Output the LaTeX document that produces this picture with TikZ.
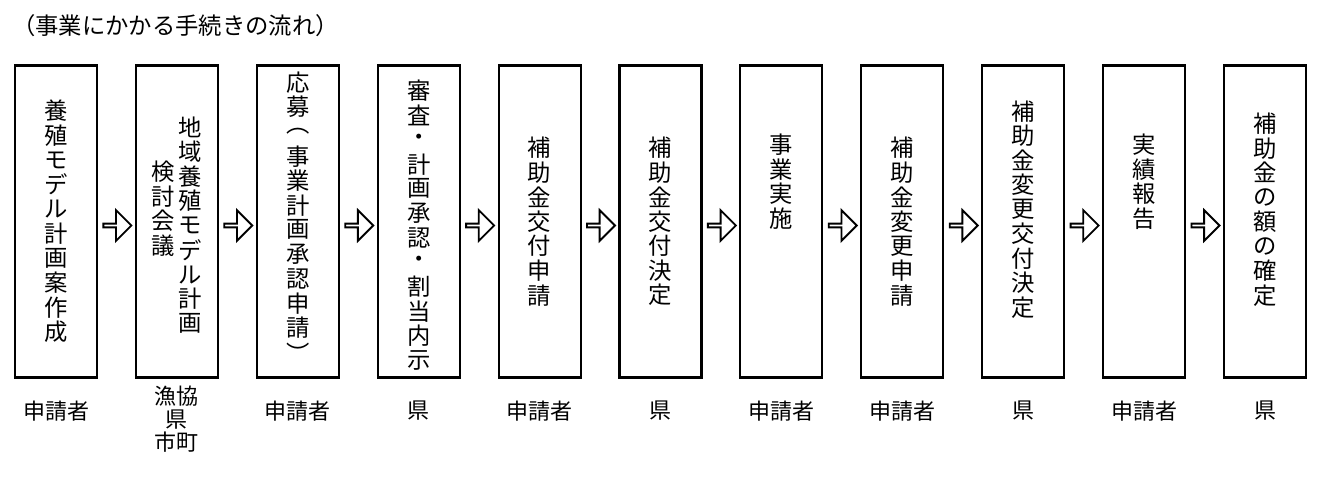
\documentclass[tikz,border=0pt]{standalone}
\usepackage{fontspec}
\setmainfont{Noto Sans CJK JP}
\usetikzlibrary{positioning,shapes.arrows,calc}
\makeatletter
\newcommand\tate[1]{\vbox{\offinterlineskip\@tfor\tatechar:=#1\do{\hbox to 1.1em{\hss\vbox to 18.4pt{\vss\hbox{\tatechar}\vss}\hss}}}}
\makeatother
\tikzset{
  StepBox/.style={rectangle, draw=black, line width=1.6pt, minimum width=61.5pt, minimum height=234pt, inner sep=0pt},
  StepText/.style={inner sep=0pt, font=\fontsize{17.5pt}{18.4pt}\selectfont},
  WhoText/.style={inner sep=0pt, align=center, font=\fontsize{16.5pt}{17pt}\selectfont},
  NextArrow/.style={single arrow, draw=black, fill=white, line width=1.4pt, minimum height=21pt, minimum width=23pt, single arrow head extend=5pt, single arrow tip angle=90, inner sep=0pt}
}
\begin{document}
\begin{tikzpicture}[x=0.75pt,y=-0.75pt]
    \useasboundingbox (0,0) rectangle (1330,476);

    \node (Title) [anchor=west, inner sep=0pt, font=\fontsize{17.5pt}{18pt}\selectfont] at (12,26) {（事業にかかる手続きの流れ）};

    % boxes
    \foreach \i in {1,...,11} {
      \node (Box\i) [StepBox] at ({56+120.9*(\i-1)},221.5) {};
    }

    % texts in boxes
    \node (Txt1) [StepText] at (Box1.center) {\tate{養殖モデル計画案作成}};
    \node (Txt2a) [StepText] at ($(Box2.center)+(13,4)$) {\tate{地域養殖モデル計画}};
    \node (Txt2b) [StepText] at ($(Box2.center)+(-14,-13)$) {\tate{検討会議}};
    \node (Txt3) [StepText] at ($(Box3.center)+(0,-4)$) {\tate{応募︵事業計画承認申請︶}};
    \node (Txt4) [StepText] at ($(Box4.center)+(0,4)$) {\tate{審査・計画承認・割当内示}};
    \node (Txt5) [StepText] at (Box5.center) {\tate{補助金交付申請}};
    \node (Txt6) [StepText] at (Box6.center) {\tate{補助金交付決定}};
    \node (Txt7) [StepText] at ($(Box7.center)+(0,-40)$) {\tate{事業実施}};
    \node (Txt8) [StepText] at (Box8.center) {\tate{補助金変更申請}};
    \node (Txt9) [StepText] at ($(Box9.center)+(0,-12)$) {\tate{補助金変更交付決定}};
    \node (Txt10) [StepText] at ($(Box10.center)+(0,-40)$) {\tate{実績報告}};
    \node (Txt11) [StepText] at ($(Box11.center)+(0,-12)$) {\tate{補助金の額の確定}};

    % who
    \node (Who1) [WhoText] at (Box1.center |- 0,411) {申請者};
    \node (Who2) [WhoText, anchor=north] at (Box2.center |- 0,386) {漁協\\県\\市町};
    \node (Who3) [WhoText] at (Box3.center |- 0,411) {申請者};
    \node (Who4) [WhoText] at (Box4.center |- 0,411) {県};
    \node (Who5) [WhoText] at (Box5.center |- 0,411) {申請者};
    \node (Who6) [WhoText] at (Box6.center |- 0,411) {県};
    \node (Who7) [WhoText] at (Box7.center |- 0,411) {申請者};
    \node (Who8) [WhoText] at (Box8.center |- 0,411) {申請者};
    \node (Who9) [WhoText] at (Box9.center |- 0,411) {県};
    \node (Who10) [WhoText] at (Box10.center |- 0,411) {申請者};
    \node (Who11) [WhoText] at (Box11.center |- 0,411) {県};

    % arrows
    \foreach \i [evaluate=\i as \j using int(\i+1)] in {1,...,10} {
      \node (Arr\i) [NextArrow] at ($(Box\i.east)!0.5!(Box\j.west)+(0,4)$) {};
    }

\end{tikzpicture}
\end{document}
